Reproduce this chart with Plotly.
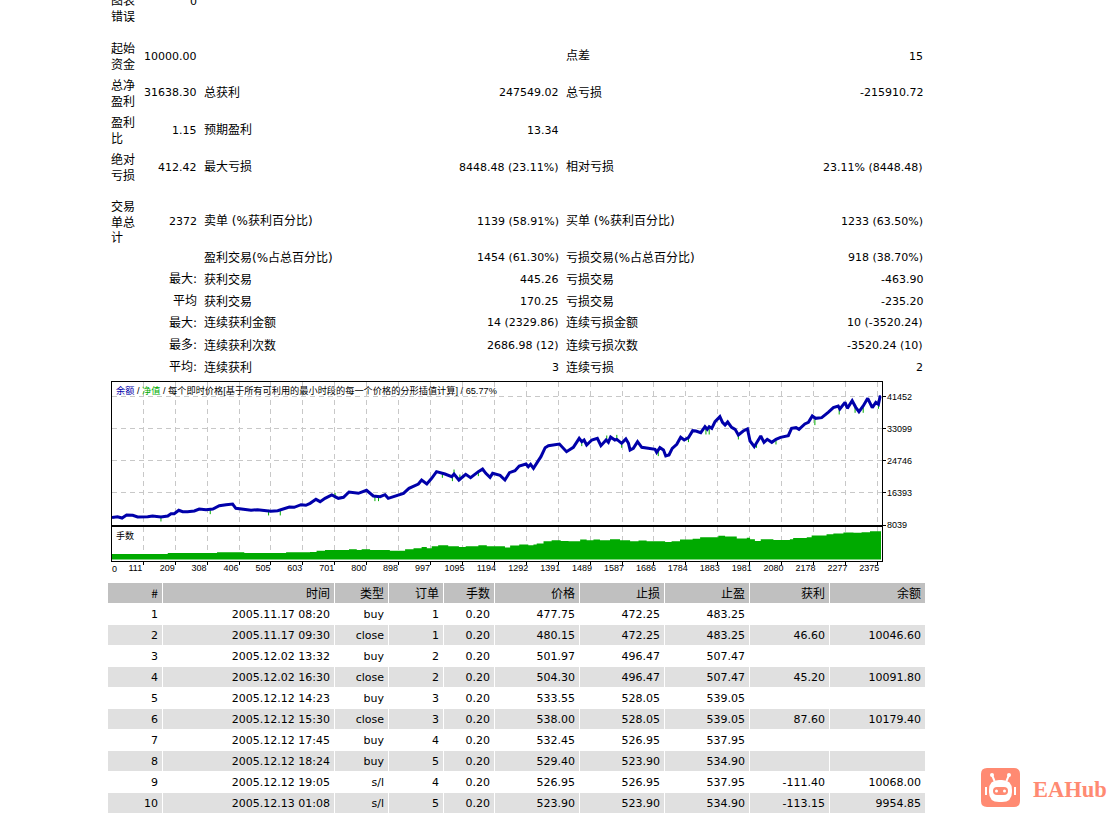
import plotly.graph_objects as go

W = 1120
H = 814

# balance curve, trade number / account value
balance_t = [0, 17, 31, 45, 64, 79, 110, 125, 151, 172, 182, 192, 206, 218, 233, 254, 269, 290, 311, 331, 352, 372,
             382, 408, 429, 449, 470, 490, 511, 532, 547, 562, 583, 598, 611, 629, 642, 657, 678, 698, 714, 731, 760,
             785, 806, 827, 842, 852, 880, 899, 916, 945, 955, 971, 986, 1001, 1027, 1048, 1055, 1070, 1091, 1106,
             1130, 1143, 1153, 1166, 1174, 1192, 1197, 1212, 1226, 1243, 1256, 1277, 1284, 1291, 1300, 1313, 1323,
             1336, 1346, 1380, 1390, 1402, 1423, 1441, 1449, 1456, 1464, 1480, 1497, 1508, 1524, 1531, 1538, 1551,
             1557, 1572, 1585, 1593, 1598, 1608, 1621, 1634, 1654, 1675, 1680, 1690, 1701, 1708, 1718, 1728, 1742,
             1754, 1765, 1778, 1791, 1801, 1816, 1829, 1836, 1842, 1850, 1860, 1875, 1883, 1891, 1899, 1911, 1922,
             1932, 1947, 1960, 1968, 1981, 2001, 2011, 2021, 2035, 2048, 2062, 2086, 2096, 2110, 2119, 2137, 2148,
             2160, 2170, 2189, 2209, 2225, 2240, 2245, 2261, 2268, 2283, 2294, 2304, 2317, 2331, 2345, 2356, 2364,
             2369, 2372]
balance = [10000, 10205, 9866, 10649, 10570, 10127, 10205, 10388, 10127, 10388, 10988, 10988, 11875, 11510, 11510,
           11693, 12215, 12032, 12215, 13076, 13337, 13520, 12398, 12137, 11875, 12032, 11771, 11614, 11771, 12293,
           12737, 12659, 13337, 13180, 13694, 14738, 14129, 14999, 15869, 14999, 15260, 16652, 16304, 17087, 15608,
           15434, 15956, 14999, 15782, 16304, 17609, 18740, 19784, 18740, 20219, 21959, 21350, 20654, 21350, 19784,
           21263, 20393, 21959, 22655, 21524, 20480, 21524, 21176, 21002, 19784, 21698, 22220, 23438, 23960, 23264,
           23873, 22829, 24569, 25874, 28223, 28745, 29180, 28223, 27179, 28310, 30659, 29789, 30224, 28919, 30224,
           30659, 28745, 30224, 29615, 31007, 30224, 30398, 29354, 30485, 29354, 27614, 28049, 29789, 28310, 28049,
           27788, 27005, 28223, 27614, 26048, 26309, 28049, 29093, 30920, 30224, 30833, 32660, 32573, 32138, 33704,
           33008, 33704, 33269, 35009, 36314, 34835, 34139, 34922, 33530, 33008, 31529, 32573, 33095, 29963, 28484,
           31268, 29615, 30398, 29615, 30398, 30920, 31355, 33269, 33443, 33008, 34400, 34835, 36488, 35879, 36053,
           37445, 38663, 39098, 38315, 40055, 38489, 40490, 38750, 37619, 39098, 41099, 38663, 40055, 39533, 41534,
           41638]

# places where equity pokes out of the balance line
equity_t = [151, 303, 483, 519, 688, 811, 822, 1019, 1050, 1055, 1073, 1130, 1449, 1526, 1557, 1572, 1685, 1778,
            1832, 1842, 1932, 1988, 2048, 2168, 2243, 2292, 2317, 2364]
equity = [9683, 11600, 11266, 11266, 15695, 14999, 14999, 21089, 20219, 21785, 20480, 21524, 29354, 30659, 30833,
          28919, 26744, 30398, 32399, 32399, 31094, 28919, 29789, 34835, 37619, 38054, 38054, 39098]

# lots panel
lots_t = [0, 172, 324, 408, 537, 611, 631, 657, 731, 755, 770, 796, 857, 904, 930, 955, 971, 986, 1006, 1037, 1070,
          1091, 1130, 1156, 1212, 1228, 1256, 1284, 1300, 1310, 1331, 1356, 1384, 1408, 1444, 1464, 1485, 1505, 1536,
          1567, 1598, 1624, 1649, 1706, 1726, 1752, 1791, 1814, 1870, 1891, 1927, 1958, 1968, 1983, 2001, 2040, 2091,
          2101, 2143, 2158, 2204, 2225, 2256, 2287, 2312, 2338, 2372]
lots = [0.20, 0.24, 0.27, 0.24, 0.27, 0.28, 0.32, 0.35, 0.38, 0.35, 0.38, 0.35, 0.32, 0.38, 0.42, 0.46, 0.42, 0.49,
        0.53, 0.49, 0.46, 0.49, 0.53, 0.49, 0.44, 0.52, 0.55, 0.53, 0.55, 0.59, 0.67, 0.71, 0.68, 0.67, 0.74, 0.71,
        0.74, 0.71, 0.75, 0.71, 0.67, 0.70, 0.67, 0.65, 0.67, 0.74, 0.77, 0.82, 0.88, 0.85, 0.78, 0.80, 0.75, 0.68,
        0.75, 0.72, 0.75, 0.79, 0.82, 0.89, 0.93, 0.96, 1.00, 0.99, 1.01, 1.04, 1.04]

y_ticks = [8039, 16393, 24746, 33099, 41452]
x_grid = [96.6, 195, 293.4, 391.9, 490.3, 588.7, 687.2, 785.6, 884, 982.5, 1080.9, 1179.3, 1277.8, 1376.2, 1474.6,
          1573.1, 1671.5, 1769.9, 1868.4, 1966.8, 2065.2, 2163.7, 2262.1, 2360.5]
x_labels = ["111", "209", "308", "406", "505", "603", "701", "800", "898", "997", "1095", "1194", "1292", "1391",
            "1489", "1587", "1686", "1784", "1883", "1981", "2080", "2178", "2277", "2375"]

# report block above the chart
stat_name = ["图表<br>错误", "起始<br>资金", "总净<br>盈利", "盈利<br>比", "绝对<br>亏损", "交易<br>单总<br>计", "", "最大:", "平均", "最大:",
             "最多:", "平均:"]
stat_value = ["0", "10000.00", "31638.30", "1.15", "412.42", "2372", "", "", "", "", "", ""]
stat_label2 = ["", "", "总获利", "预期盈利", "最大亏损", "卖单 (%获利百分比)", "盈利交易(%占总百分比)", "获利交易", "获利交易", "连续获利金额", "连续获利次数", "连续获利"]
stat_value2 = ["", "", "247549.02", "13.34", "8448.48 (23.11%)", "1139 (58.91%)", "1454 (61.30%)", "445.26", "170.25",
               "14 (2329.86)", "2686.98 (12)", "3"]
stat_label3 = ["", "点差", "总亏损", "", "相对亏损", "买单 (%获利百分比)", "亏损交易(%占总百分比)", "亏损交易", "亏损交易", "连续亏损金额", "连续亏损次数", "连续亏损"]
stat_value3 = ["", "15", "-215910.72", "", "23.11% (8448.48)", "1233 (63.50%)", "918 (38.70%)", "-463.90", "-235.20",
               "10 (-3520.24)", "-3520.24 (10)", "2"]
stat_y = [2, 56, 93, 130, 167, 221, 257, 279, 301, 323, 345, 367]

# order log
log_header = ["#", "时间", "类型", "订单", "手数", "价格", "止损", "止盈", "获利", "余额"]
log_no = ["1", "2", "3", "4", "5", "6", "7", "8", "9", "10"]
log_time = ["2005.11.17 08:20", "2005.11.17 09:30", "2005.12.02 13:32", "2005.12.02 16:30", "2005.12.12 14:23",
            "2005.12.12 15:30", "2005.12.12 17:45", "2005.12.12 18:24", "2005.12.12 19:05", "2005.12.13 01:08"]
log_type = ["buy", "close", "buy", "close", "buy", "close", "buy", "buy", "s/l", "s/l"]
log_order = ["1", "1", "2", "2", "3", "3", "4", "5", "4", "5"]
log_lots = ["0.20"] * 10
log_price = ["477.75", "480.15", "501.97", "504.30", "533.55", "538.00", "532.45", "529.40", "526.95", "523.90"]
log_sl = ["472.25", "472.25", "496.47", "496.47", "528.05", "528.05", "526.95", "523.90", "526.95", "523.90"]
log_tp = ["483.25", "483.25", "507.47", "507.47", "539.05", "539.05", "537.95", "534.90", "537.95", "534.90"]
log_profit = ["", "46.60", "", "45.20", "", "87.60", "", "", "-111.40", "-113.15"]
log_balance = ["", "10046.60", "", "10091.80", "", "10179.40", "", "", "10068.00", "9954.85"]
log_widths = [55, 172, 54, 55, 51, 85, 85, 85, 80, 96]

BLUE = "#0000AA"
GREEN = "#00AA00"
GRID = "#C8C8C8"
LOGO = "#FF8A72"
TEXT_FONT = "DejaVu Sans, Noto Sans CJK SC"
CJK_FONT = "Noto Sans CJK SC"
CHART_FONT = "Liberation Sans, Noto Sans CJK SC"


def px_x(v):
    return v / W


def px_y(v):
    return 1 - v / H


fig = go.Figure()

fig.add_trace(go.Scatter(x=equity_t, y=equity, mode="markers", xaxis="x", yaxis="y",
                         marker=dict(symbol="line-ns", size=4, line=dict(color=GREEN, width=1))))
fig.add_trace(go.Scatter(x=balance_t, y=balance, mode="lines", xaxis="x", yaxis="y",
                         line=dict(color=BLUE, width=3)))
fig.add_trace(go.Scatter(x=lots_t, y=lots, mode="lines", xaxis="x2", yaxis="y2", fill="tozeroy",
                         fillcolor=GREEN, line=dict(color=GREEN, width=0, shape="hv")))

# bands and headers first, then the text on a clear copy because table cells pad by more than the report does
blank_rows = [[""] * 10 for _ in log_header]
fig.add_trace(go.Table(
    domain=dict(x=[px_x(107.5), px_x(926)], y=[0, px_y(582)]),
    columnwidth=log_widths,
    header=dict(values=[""] * 10, height=21, fill_color="#C0C0C0", line=dict(color="white", width=1)),
    cells=dict(values=blank_rows, height=21, line=dict(color="white", width=1),
               fill_color=[["white", "#E0E0E0"] * 5]),
))
fig.add_trace(go.Table(
    domain=dict(x=[px_x(111), px_x(929)], y=[0, px_y(581)]),
    columnwidth=log_widths,
    header=dict(values=log_header, height=21, align="right", fill_color="rgba(0,0,0,0)",
                line=dict(color="rgba(0,0,0,0)", width=0), font=dict(family=CJK_FONT, size=12, color="black")),
    cells=dict(values=[log_no, log_time, log_type, log_order, log_lots, log_price, log_sl, log_tp, log_profit,
                       log_balance],
               height=21, align="right", line=dict(color="rgba(0,0,0,0)", width=0), fill_color="rgba(0,0,0,0)",
               font=dict(family="DejaVu Sans", size=11, color="black")),
))

notes = []


def note(x, y, text, anchor, font=TEXT_FONT, size=11, color="black"):
    notes.append(dict(x=px_x(x), y=px_y(y), xref="paper", yref="paper", text=text, xanchor=anchor, yanchor="middle",
                      showarrow=False, align="left", borderpad=0, font=dict(family=font, size=size, color=color)))


for i, y in enumerate(stat_y):
    name_y = y + 1
    if i == 0:
        name_y = 9.5
    if "<br>" in stat_name[i]:
        note(110, name_y, stat_name[i], "left", size=12)
    elif stat_name[i]:
        note(197.5, y, stat_name[i], "right", size=12)
    if stat_value[i]:
        note(198, y, stat_value[i], "right")
    if stat_label2[i]:
        note(203, y, stat_label2[i], "left", size=12)
    if stat_value2[i]:
        note(560, y, stat_value2[i], "right")
    if stat_label3[i]:
        note(565, y, stat_label3[i], "left", size=12)
    if stat_value3[i]:
        note(924, y, stat_value3[i], "right")

chart_title = ("<span style='color:#0000AA'>余额</span> / <span style='color:#00AA00'>净值</span> / "
               "每个即时价格[基于所有可利用的最小时段的每一个价格的分形插值计算] / 65.77%")
note(115, 390, chart_title, "left", font=CHART_FONT, size=9.2)
note(115, 535.5, "手数", "left", font=CHART_FONT, size=9)
note(114, 568.5, "0", "center", font=CHART_FONT, size=9)
note(1032, 789, "<b>EAHub</b>", "left", font="Liberation Serif", size=22.5, color=LOGO)


def rounded(x0, y0, x1, y1, r):
    # rounded box as an svg path in paper fractions
    a = [(x0 + r, y0), (x1 - r, y0), (x1, y0), (x1, y0 + r), (x1, y1 - r), (x1, y1), (x1 - r, y1), (x0 + r, y1),
         (x0, y1), (x0, y1 - r), (x0, y0 + r), (x0, y0), (x0 + r, y0)]
    p = [f"{px_x(x):.5f},{px_y(y):.5f}" for x, y in a]
    return (f"M{p[0]} L{p[1]} Q{p[2]} {p[3]} L{p[4]} Q{p[5]} {p[6]} L{p[7]} Q{p[8]} {p[9]} "
            f"L{p[10]} Q{p[11]} {p[12]} Z")


def blob(path, colour):
    return dict(type="path", xref="paper", yref="paper", path=path, fillcolor=colour, line=dict(width=0))


def dot(x, y, r, colour):
    return dict(type="circle", xref="paper", yref="paper", x0=px_x(x - r), x1=px_x(x + r), y0=px_y(y - r),
                y1=px_y(y + r), fillcolor=colour, line=dict(width=0))


def stroke(x0, y0, x1, y1):
    return dict(type="line", xref="paper", yref="paper", x0=px_x(x0), x1=px_x(x1), y0=px_y(y0), y1=px_y(y1),
                line=dict(color="white", width=2))


# robot logo bottom right
shapes = [
    blob(rounded(981, 768, 1020, 807, 6), LOGO),
    stroke(994.5, 781, 992, 775),
    stroke(1006.5, 781, 1009, 775),
    dot(992, 775, 2, "white"),
    dot(1009, 775, 2, "white"),
    stroke(986, 787, 986, 795),
    stroke(1015, 787, 1015, 795),
    blob(rounded(989, 780, 1012, 802, 10), "white"),
    blob(rounded(993, 787, 1008, 795, 4), LOGO),
    dot(996.5, 791, 1.5, "white"),
    dot(1004.5, 791, 1.5, "white"),
]

grid = dict(showgrid=True, gridcolor=GRID, griddash="5px,4px", gridwidth=1, zeroline=False, showline=True,
            linecolor="black", linewidth=1.2, mirror=True)
tick_font = dict(family=CHART_FONT, size=9, color="black")

fig.update_layout(
    width=W,
    height=H,
    margin=dict(l=0, r=0, t=0, b=0, autoexpand=False),
    paper_bgcolor="white",
    plot_bgcolor="white",
    showlegend=False,
    hovermode=False,
    annotations=notes,
    shapes=shapes,
    xaxis=dict(domain=[px_x(112), px_x(882)], range=[0, 2375], anchor="y", tickvals=x_grid, showticklabels=False,
               ticks="", **grid),
    yaxis=dict(domain=[px_y(525), px_y(382)], range=[8039, 45362], anchor="x", side="right", tickvals=y_ticks,
               ticktext=[str(v) for v in y_ticks], ticks="outside", ticklen=3, tickcolor="black", tickfont=tick_font,
               ticklabelstandoff=-1, **grid),
    xaxis2=dict(domain=[px_x(112), px_x(882)], range=[0, 2375], anchor="y2", tickvals=x_grid, ticktext=x_labels,
                ticks="outside", ticklen=3, tickcolor="black", ticklabelshift=-8, ticklabelstandoff=-5, tickangle=0,
                tickfont=tick_font, **grid),
    yaxis2=dict(domain=[px_y(561), px_y(527)], range=[-0.055, 1.2], anchor="x2", side="right", showticklabels=False,
                ticks="", showgrid=False, showline=True, linecolor="black", linewidth=1.2, mirror=True,
                zeroline=False),
)

fig.write_html("out.html", config=dict(displayModeBar=False),
               post_script="document.body.style.margin='0';document.body.style.overflow='hidden';")
